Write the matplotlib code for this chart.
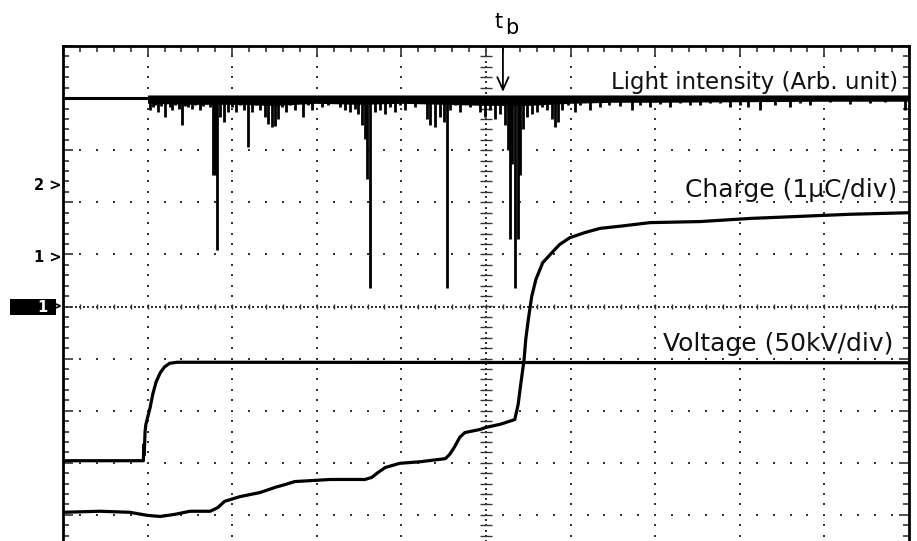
import numpy as np
import matplotlib
matplotlib.use("Agg")
import matplotlib.pyplot as plt
from matplotlib.ticker import MultipleLocator
from matplotlib.patches import Rectangle

# ---------------- data (oscilloscope divisions) ----------------
light_baseline = 4.0
light_dip_x = [1.03, 1.06, 1.09, 1.12, 1.16, 1.21, 1.26, 1.29, 1.32, 1.37, 1.41, 1.44, 1.48,
               1.52, 1.56, 1.62, 1.65, 1.68, 1.74,
               1.77, 1.80, 1.82, 1.86, 1.90, 1.95, 2.00, 2.04, 2.09, 2.14, 2.19, 2.23,
               2.28, 2.33, 2.39, 2.42, 2.47, 2.51, 2.54, 2.59, 2.64, 2.68, 2.74, 2.80,
               2.84, 2.90, 2.94, 3.01, 3.06, 3.13, 3.20, 3.27, 3.33, 3.39, 3.45, 3.49,
               3.53, 3.57, 3.59, 3.63, 3.69, 3.75, 3.81, 3.87, 3.92, 3.98, 4.04, 4.10,
               4.16, 4.22, 4.30, 4.34, 4.40, 4.46, 4.50, 4.54, 4.57, 4.63, 4.69, 4.75,
               4.81, 4.87, 4.93, 4.99, 5.05, 5.11, 5.17, 5.22, 5.26, 5.28, 5.31, 5.34,
               5.38, 5.40, 5.44, 5.48, 5.54, 5.60, 5.66, 5.72, 5.78, 5.82, 5.85, 5.90,
               5.97, 6.05, 6.11, 6.23, 6.35, 6.45, 6.58, 6.73, 6.82, 6.94, 7.06, 7.17,
               7.29, 7.41, 7.53, 7.65, 7.77, 7.88, 8.00, 8.10, 8.24, 8.42, 8.59, 8.71,
               8.83, 9.07, 9.30, 9.54, 9.72, 9.95]
light_dip_y = [3.78, 3.82, 3.86, 3.74, 3.84, 3.63, 3.82, 3.78, 3.86, 3.80, 3.49, 3.84, 3.82,
               3.80, 3.86, 3.78, 3.84, 3.90, 3.82,
               2.53, 2.53, 1.09, 3.63, 3.55, 3.74, 3.82, 3.74, 3.86, 3.78, 3.07, 3.74,
               3.86, 3.78, 3.63, 3.51, 3.45, 3.47, 3.59, 3.82, 3.74, 3.86, 3.78, 3.90,
               3.63, 3.86, 3.78, 3.90, 3.82, 3.86, 3.90, 3.82, 3.78, 3.74, 3.80, 3.69,
               3.49, 3.21, 2.44, 0.36, 3.74, 3.78, 3.69, 3.82, 3.74, 3.86, 3.78, 3.90,
               3.82, 3.90, 3.59, 3.49, 3.44, 3.63, 3.55, 0.36, 3.78, 3.86, 3.74, 3.90,
               3.82, 3.90, 3.74, 3.63, 3.78, 3.59, 3.70, 3.49, 3.01, 1.29, 2.73, 0.36,
               1.29, 2.53, 3.40, 3.63, 3.69, 3.74, 3.82, 3.78, 3.59, 3.44, 3.55, 3.78,
               3.86, 3.74, 3.86, 3.78, 3.82, 3.86, 3.84, 3.78, 3.86, 3.82, 3.88, 3.82,
               3.90, 3.86, 3.86, 3.90, 3.90, 3.82, 3.86, 3.82, 3.78, 3.86, 3.82, 3.90,
               3.86, 3.92, 3.88, 3.90, 3.92, 3.78]
light_band_x = [1.0, 1.5, 2.0, 2.5, 3.0, 3.5, 4.0, 4.5, 5.0, 5.5, 6.0, 6.5, 7.0, 8.0, 9.0, 10.0]
light_band_lo = [3.90, 3.88, 3.88, 3.86, 3.90, 3.88, 3.90, 3.88, 3.86, 3.86, 3.90, 3.92, 3.92, 3.93, 3.94, 3.94]

charge_x = [0.0, 0.44, 0.79, 1.00, 1.15, 1.32, 1.50, 1.74, 1.83, 1.91, 2.09, 2.33, 2.51,
            2.62, 2.74, 3.16, 3.57, 3.65, 3.72, 3.81, 3.98, 4.22, 4.52, 4.57, 4.63, 4.69,
            4.75, 4.93, 5.00, 5.17, 5.34, 5.38, 5.41, 5.45, 5.47, 5.50, 5.54, 5.59, 5.67,
            5.76, 5.87, 5.99, 6.17, 6.35, 6.58, 6.94, 7.53, 8.12, 8.71, 9.30, 10.0]
charge_y = [-3.95, -3.93, -3.95, -4.01, -4.03, -3.99, -3.93, -3.93, -3.86, -3.74, -3.65,
            -3.57, -3.47, -3.42, -3.36, -3.32, -3.32, -3.28, -3.19, -3.09, -3.01, -2.98,
            -2.92, -2.84, -2.69, -2.51, -2.42, -2.36, -2.32, -2.26, -2.17, -1.88, -1.50,
            -1.02, -0.63, -0.25, 0.19, 0.52, 0.84, 1.00, 1.19, 1.32, 1.42, 1.50, 1.54,
            1.61, 1.63, 1.69, 1.73, 1.77, 1.80]

voltage_x = [0.0, 0.95, 0.955, 0.96, 0.97, 0.98, 1.00, 1.03, 1.06, 1.10, 1.15, 1.20, 1.26, 1.35, 10.0]
voltage_y = [-2.96, -2.96, -2.65, -2.85, -2.40, -2.26, -2.13, -1.94, -1.69, -1.45, -1.27,
             -1.16, -1.09, -1.07, -1.08]

label_light = "Light intensity (Arb. unit)"
label_charge = "Charge (1\u00b5C/div)"
label_voltage = "Voltage (50kV/div)"
marker_labels = ["2 >", "1 >", "1"]
tb_x = 5.2

# ---------------- figure ----------------
W, H = 917, 541
fig = plt.figure(figsize=(W / 100, H / 100), dpi=100)
ax = fig.add_axes([63 / W, 1 - 567 / H, 846 / W, 521 / H])
ax.set_xlim(0, 10)
ax.set_ylim(-5, 5)
for s in ["left", "top", "right"]:
    ax.spines[s].set_linewidth(2.0)
    ax.spines[s].set_color("black")
ax.spines["bottom"].set_visible(False)

ax.xaxis.set_major_locator(MultipleLocator(1))
ax.xaxis.set_minor_locator(MultipleLocator(0.2))
ax.yaxis.set_major_locator(MultipleLocator(1))
ax.yaxis.set_minor_locator(MultipleLocator(0.2))
ax.tick_params(which="both", direction="in", top=True, bottom=False, left=True, right=True,
               labelleft=False, labelbottom=False, color="#333")
ax.tick_params(which="major", length=7, width=1.2)
ax.tick_params(which="minor", length=4, width=1.2)

# dotted graticule
dot = dict(ls="none", marker="s", ms=1.5, mew=0, color="#333")
minor_y = np.arange(-5, 5.001, 0.2)
minor_x = np.arange(0, 10.001, 0.2)
for gx in [1, 2, 3, 4, 6, 7, 8, 9]:
    ax.plot(np.full_like(minor_y, gx), minor_y, **dot)
for gy in [-4, -3, -2, -1, 1, 2, 3, 4]:
    ax.plot(minor_x, np.full_like(minor_x, gy), **dot)
# centre cross-hair
cx = np.arange(0, 10.001, 0.05)
ax.plot(cx, np.zeros_like(cx), **dot)
ax.vlines(minor_x, -0.05, 0.05, color="#333", lw=1.0)
cy = np.arange(-5, 5.001, 0.1)
ax.plot(np.full_like(cy, 5.0), cy, **dot)
ax.hlines(minor_y, 4.93, 5.07, color="#333", lw=1.0)

# traces
ax.fill_between(light_band_x, light_band_lo, light_baseline + 0.06, color="black", lw=0)
ax.plot([0, 10], [light_baseline, light_baseline], color="black", lw=2.2)
ax.vlines(light_dip_x, light_dip_y, light_baseline + 0.04, color="black", lw=2.0)
ax.plot(charge_x, charge_y, color="black", lw=2.3)
ax.plot(voltage_x, voltage_y, color="black", lw=2.3)

# labels
fs = 18
ax.text(9.87, 4.17, label_light, ha="right", va="baseline", fontsize=16.5, color="#111",
        family="DejaVu Sans")
ax.text(9.86, 2.11, label_charge, ha="right", va="baseline", fontsize=fs, color="#111",
        family="DejaVu Sans")
ax.text(9.81, -0.86, label_voltage, ha="right", va="baseline", fontsize=fs, color="#111",
        family="DejaVu Sans")

# t_b marker
ax.annotate("", xy=(tb_x, 4.12), xytext=(tb_x, 5.0),
            arrowprops=dict(arrowstyle="->,head_length=0.6,head_width=0.27", lw=1.3,
                            color="black", mutation_scale=15, shrinkA=0, shrinkB=0),
            annotation_clip=False)
ax.text(5.15, 5.46, "t", ha="center", va="center", fontsize=15, clip_on=False)
ax.text(5.31, 5.35, "b", ha="center", va="center", fontsize=15, clip_on=False)

# channel markers on the left
fig.text(62 / W, 1 - 185 / H, marker_labels[0], ha="right", va="center", fontsize=10.5,
         fontweight="bold")
fig.text(62 / W, 1 - 257 / H, marker_labels[1], ha="right", va="center", fontsize=10.5,
         fontweight="bold")
fig.patches.append(Rectangle((10 / W, 1 - 315 / H), 46 / W, 16 / H, transform=fig.transFigure,
                             facecolor="black", edgecolor="none"))
fig.text(42 / W, 1 - 307 / H, marker_labels[2], ha="center", va="center", fontsize=10.5,
         fontweight="bold", color="white")
fig.text(62 / W, 1 - 307 / H, ">", ha="right", va="center", fontsize=10.5, fontweight="bold")

fig.savefig("out.png", dpi=100)
